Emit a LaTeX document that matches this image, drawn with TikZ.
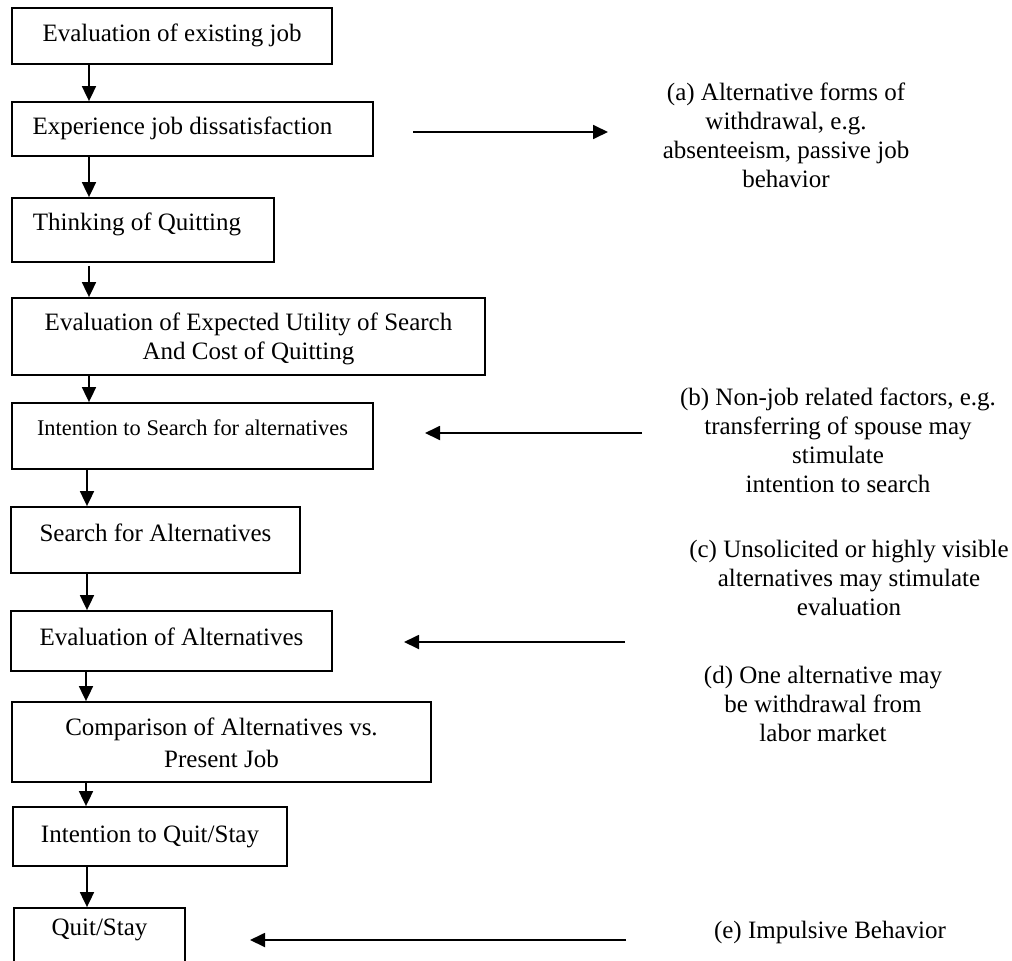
\documentclass[tikz,border=0pt]{standalone}
\usepackage{fontspec}
\setmainfont{Liberation Serif}
\usetikzlibrary{arrows.meta}
\newcommand{\nudge}[3]{\raisebox{#2}[\height][\depth]{\hspace*{#1}#3\hspace*{-#1}}}
\tikzset{
  box/.style={draw, line width=1.8pt, rectangle, inner sep=0pt, align=center,
    font=\fontsize{25}{29}\selectfont, text height=17pt, text depth=5.5pt},
  note/.style={align=center, inner sep=0pt, font=\fontsize{25}{29}\selectfont},
  arr/.style={line width=1.8pt, -{Triangle[length=15pt,width=14pt]}}
}
\begin{document}
\begin{tikzpicture}[x=1pt,y=-1pt]
\useasboundingbox (0,0) rectangle (1012,961);
\clip (0,0) rectangle (1012,961);
% boxes
\node[box, minimum width=320pt, minimum height=56pt] (b1) at (172,36) {Evaluation of existing job};
\node[box, minimum width=361pt, minimum height=54pt] (b2) at (192.5,129) {\nudge{-10pt}{0pt}{Experience job dissatisfaction}};
\node[box, minimum width=262pt, minimum height=64pt] (b3) at (143,230) {\nudge{-6pt}{5pt}{Thinking of Quitting}};
\node[box, minimum width=473pt, minimum height=77pt, text height=, text depth=] (b4) at (248.5,336.5) {\nudge{0pt}{-3pt}{\begin{tabular}{@{}c@{}}Evaluation of Expected Utility of Search\\And Cost of Quitting\end{tabular}}};
\node[box, minimum width=361pt, minimum height=66pt, font=\fontsize{22.4}{27}\selectfont] (b5) at (192.5,436) {\nudge{0pt}{6pt}{Intention to Search for alternatives}};
\node[box, minimum width=289pt, minimum height=66pt] (b6) at (155.5,540) {\nudge{0pt}{4pt}{Search for Alternatives}};
\node[box, minimum width=321pt, minimum height=60pt] (b7) at (171.5,641) {\nudge{0pt}{1pt}{Evaluation of Alternatives}};
\node[box, minimum width=419pt, minimum height=80pt, text height=, text depth=] (b8) at (221.5,742) {\nudge{0pt}{-4pt}{\begin{tabular}{@{}c@{}}Comparison of Alternatives vs.\\[3pt]Present Job\end{tabular}}};
\node[box, minimum width=274pt, minimum height=59pt] (b9) at (150,836.5) {Intention to Quit/Stay};
\node[box, minimum width=171pt, minimum height=72pt] (b10) at (99.5,944) {\nudge{0pt}{14pt}{Quit/Stay}};
% vertical connectors
\coordinate (x1) at (89,0);
\coordinate (x2) at (87,0);
\coordinate (x3) at (86,0);
\draw[arr] (x1 |- b1.south) -- (x1 |- b2.north);
\draw[arr] (x1 |- b2.south) -- (x1 |- b3.north);
\draw[arr] ([yshift=-3pt]x1 |- b3.south) -- (x1 |- b4.north);
\draw[arr] (x1 |- b4.south) -- (x1 |- b5.north);
\draw[arr] (x2 |- b5.south) -- (x2 |- b6.north);
\draw[arr] (x2 |- b6.south) -- (x2 |- b7.north);
\draw[arr] (x3 |- b7.south) -- (x3 |- b8.north);
\draw[arr] (x3 |- b8.south) -- (x3 |- b9.north);
\draw[arr] (x2 |- b9.south) -- (x2 |- b10.north);
% side notes
\node[note] (ta) at (786,135) {(a) Alternative forms of\\withdrawal, e.g.\\absenteeism, passive job\\behavior};
\node[note] (tb) at (838,440) {(b) Non-job related factors, e.g.\\transferring of spouse may\\stimulate\\intention to search};
\node[note] (tc) at (849,578) {(c) Unsolicited or highly visible\\alternatives may stimulate\\evaluation};
\node[note] (td) at (823,704) {(d) One alternative may\\be withdrawal from\\labor market};
\node[note] (te) at (830,932) {(e) Impulsive Behavior};
% side arrows
\coordinate (aS) at (413,132);
\coordinate (aE) at (608,132);
\coordinate (bS) at (642,433);
\coordinate (bE) at (425,433);
\coordinate (cS) at (625,642);
\coordinate (cE) at (404,642);
\coordinate (eS) at (626,940);
\coordinate (eE) at (250,940);
\draw[arr] (aS) -- (aE);
\draw[arr] (bS) -- (bE);
\draw[arr] (cS) -- (cE);
\draw[arr] (eS) -- (eE);
\end{tikzpicture}
\end{document}
